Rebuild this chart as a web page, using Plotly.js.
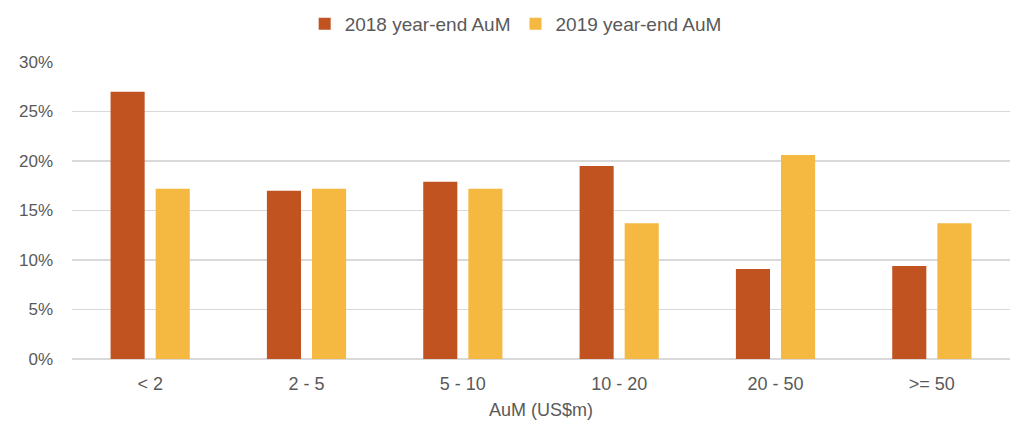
<!DOCTYPE html>
<html>
<head>
<meta charset="utf-8">
<script src="https://cdn.plot.ly/plotly-3.0.1.min.js"></script>
<style>html,body{margin:0;padding:0;background:#fff;}#chart{width:1024px;height:432px;}</style>
</head>
<body>
<div id="chart"></div>
<script>
const categories = ["< 2", "2 - 5", "5 - 10", "10 - 20", "20 - 50", ">= 50"];
const aum2018 = [27.0, 17.0, 17.9, 19.5, 9.1, 9.4];
const aum2019 = [17.2, 17.2, 17.2, 13.7, 20.6, 13.7];
const yTicks = [0, 5, 10, 15, 20, 25, 30];

const font = "Liberation Sans, Arial, Helvetica, sans-serif";
const data = [
  {type: "bar", name: "2018 year-end AuM", x: categories, y: aum2018,
   marker: {color: "#C15321"}, hoverinfo: "skip"},
  {type: "bar", name: "2019 year-end AuM", x: categories, y: aum2019,
   marker: {color: "#F5B841"}, hoverinfo: "skip"}
];
const layout = {
  width: 1024, height: 432,
  margin: {l: 72, r: 14, t: 62, b: 73, autoexpand: false},
  paper_bgcolor: "#fff", plot_bgcolor: "#fff",
  barmode: "group", bargap: 0.423, bargroupgap: 0.244,
  font: {family: font, color: "#595959", size: 18},
  showlegend: true,
  legend: {orientation: "h", x: 0.473, xanchor: "center", y: 1.128, yanchor: "middle",
           font: {family: font, size: 19, color: "#595959"}, itemwidth: 30, traceorder: "normal"},
  xaxis: {type: "category", showgrid: false, showline: false, zeroline: false,
          ticks: "", ticklabelstandoff: 12, tickfont: {family: font, size: 18, color: "#595959"},
          title: {text: "AuM (US$m)", font: {family: font, size: 18, color: "#595959"}, standoff: 10}},
  yaxis: {range: [0, 30], tickvals: yTicks, ticktext: yTicks.map(v => v + "%"),
          showgrid: true, gridcolor: "#D9D9D9", gridwidth: 1.5, zeroline: true,
          zerolinecolor: "#D9D9D9", zerolinewidth: 1.5, showline: false, ticks: "",
          ticklabelstandoff: 18,
          tickfont: {family: font, size: 17, color: "#595959"}}
};
Plotly.newPlot("chart", data, layout, {displayModeBar: false, staticPlot: true});
</script>
</body>
</html>
